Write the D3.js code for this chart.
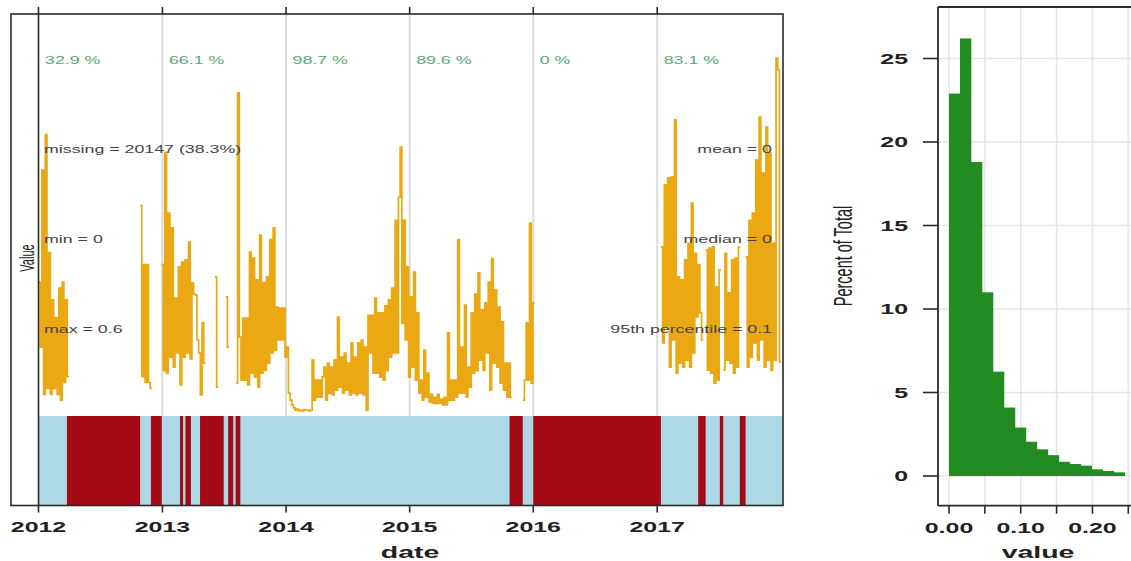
<!DOCTYPE html>
<html>
<head>
<meta charset="utf-8">
<script src="https://cdn.jsdelivr.net/npm/d3@7"></script>
<style>
body{margin:0;background:#fff;}
text{font-family:"Liberation Sans",Arial,sans-serif;}
</style>
</head>
<body>
<svg id="chart" width="1131" height="561"></svg>
<script>
// ---- data -------------------------------------------------------------------
var years = [2012,2013,2014,2015,2016,2017];
var captureLabels = ["32.9 %","66.1 %","98.7 %","89.6 %","0 %","83.1 %"];
var statsLeft = ["missing = 20147 (38.3%)","min = 0","max = 0.6"];
var statsRight = ["mean = 0","median = 0","95th percentile = 0.1"];

// periods shown red in the data capture band
var missingPeriods = [
	["2012-03-25","2012-10-27"],["2012-11-28","2012-12-30"],["2013-02-22","2013-03-03"],
	["2013-03-10","2013-03-26"],["2013-04-22","2013-07-01"],["2013-07-14","2013-07-29"],
	["2013-08-05","2013-08-19"],["2015-10-23","2015-12-01"],["2016-01-01","2017-01-12"],
	["2017-05-02","2017-05-24"],["2017-07-05","2017-07-15"],["2017-09-02","2017-09-19"]
];

// series: runs of values every 5 days
var stepDays = 5;
var runStart = ["2012-01-01","2012-10-27","2012-12-29","2013-06-05","2013-07-07","2013-08-06","2015-12-01","2017-01-12","2017-05-24","2017-07-15","2017-09-19"];
var runA = [0.22,0.11,0.41,0.03,0.47,0.04,0.27,0.03,0.19,0.04,0.16,0.03,0.21,0.02,0.22,0.05,0.19,0.06];
var runB = [0.35,0.06,0.25,0.05,0.25,0.05,0.04];
var runC = [0.25,0.07,0.44,0.066,0.337,0.093,0.312,0.076,0.193,0.10,0.246,0.046,0.254,0.093,0.258,0.10,0.288,0.09,0.219,0.20,0.198,0.122,0.10,0.029,0.151,0.083];
var runD = [0.229,0.042];
var runE = [0.195,0.11];
var runH = [
	0.049,0.541,0.127,0.054,0.159,0.054,0.159,0.046,0.271,0.066,0.261,0.059,0.224,0.042,0.30,0.066,0.219,0.071,
	0.229,0.083,0.292,0.10,0.312,0.105,0.178,0.122,0.176,0.122,0.176,0.093,0.110,0.032,0.020,0.012,
	0.007,0.003,0.005,0.002,0.003,0.002,0.004,0.003,0.003,0.002,0.003,
	0.088,0.02,0.054,0.025,0.054,0.025,0.06,
	0.076,0.02,0.083,0.032,0.076,0.029,0.088,0.037,0.161,0.042,0.093,0.032,0.10,0.037,0.083,0.029,0.117,0.032,
	0.093,0.029,0.117,0.032,0.122,0.029,0.110,0.003,0.164,0.10,0.164,0.066,0.193,0.066,0.168,0.059,0.168,0.054,
	0.18,0.07,0.19,0.093,0.21,0.10,0.325,0.10,0.364,0.449,0.15,
	0.325,0.122,0.246,0.059,0.195,0.076,0.237,0.054,0.168,0.032,0.054,0.020,
	0.105,0.025,0.066,0.017,0.03,0.015,0.025,0.014,0.03,0.015,0.022,0.012,0.025,0.012,0.134,0.02,0.054,0.02,
	0.054,0.025,0.292,0.032,0.11,0.032,0.181,0.025,0.076,0.042,0.168,0.066,0.20,0.07,0.236,0.088,0.173,0.071,
	0.185,0.10,0.22,0.037,0.26,0.083,0.207,0.076,0.178,0.049,0.153,0.037,0.083,0.025,0.083,0.025
];
var runI = [0.02,0.054,0.151,0.054,0.32,0.049,0.185];
var runJ = [0.28,0.117,0.385,0.144,0.397,0.076,0.398,0.122,0.495,0.066,0.229,0.083,0.224,0.076,0.258,0.088,0.286,0.076,0.354,0.10,0.269,0.161,0.25,0.168,0.122];
var runK = [0.275,0.071,0.278,0.066,0.28,0.049,0.212,0.054,0.241];
var runL = [0.071,0.269,0.088,0.202,0.083,0.258,0.066,0.261,0.076,0.28];
var runM = [0.263,0.076,0.325,0.093,0.337,0.117,0.427,0.088,0.50,0.122,0.405,0.076,0.483,0.088,0.439,0.071,0.286,0.088,0.60,0.58,0.085];
var runValues = [runA,runB,runC,runD,runE,runH,runI,runJ,runK,runL,runM];

// histogram (percent of total per bin)
var histEdges = [0,0.0153,0.0306,0.0459,0.0612,0.0765,0.0918,0.1071,0.1224,0.1377,0.153,0.1683,0.1836,0.1989,0.2142,0.2295,0.2448];
var histPercent = [22.9,26.2,18.8,11.0,6.25,4.1,2.9,2.05,1.6,1.25,0.85,0.72,0.62,0.40,0.30,0.22];
var histXTicks = [0,0.05,0.10,0.15,0.20,0.25];
var histXLabels = [0,0.10,0.20];
var histYTicks = [0,5,10,15,20,25];

// ---- drawing ---------------------------------------------------------------------
var SX = 1.78;   // the picture is stretched sideways, text too
var parseDay = d3.timeParse("%Y-%m-%d");
var svg = d3.select("#chart");

function AddText(str, x, y, size, anchor, color, rotate, weight)
{
	return svg.append("text")
		.attr("transform", "translate(" + x + "," + y + ") scale(" + SX + ",1)" + (rotate ? " rotate(-90)" : ""))
		.attr("text-anchor", anchor)
		.style("font-size", size + "px")
		.style("font-weight", weight || "normal")
		.style("fill", color)
		.text(str);
}

//Left panel: time series + data capture band---------------------------------------
var frameL = {x0:11, x1:783, y0:14, y1:505.5};
var bandTop = 416;

var x = d3.scaleTime()
	.domain([parseDay("2012-01-01"), parseDay("2018-01-01")])
	.range([38.5, 780.8]);
var y = d3.scaleLinear().domain([0,0.6]).range([412,58]);

svg.append("defs").append("clipPath").attr("id","clipL")
	.append("rect").attr("x",x(parseDay("2012-01-01"))).attr("y",frameL.y0)
	.attr("width",frameL.x1 - x(parseDay("2012-01-01"))).attr("height",bandTop - frameL.y0);

// year grid lines
svg.selectAll(".ygrid").data(years.slice(1)).enter().append("line")
	.attr("x1",function(d){ return x(new Date(d,0,1)); })
	.attr("x2",function(d){ return x(new Date(d,0,1)); })
	.attr("y1",frameL.y0).attr("y2",bandTop)
	.style("stroke","#dcdcdc").style("stroke-width",2);

// band
svg.append("rect")
	.attr("x",x(parseDay("2012-01-01"))).attr("y",bandTop)
	.attr("width",frameL.x1 - x(parseDay("2012-01-01"))).attr("height",frameL.y1 - bandTop)
	.style("fill","#add8e6");
svg.selectAll(".miss").data(missingPeriods).enter().append("rect")
	.attr("x",function(d){ return x(parseDay(d[0])); })
	.attr("width",function(d){ return x(parseDay(d[1])) - x(parseDay(d[0])); })
	.attr("y",bandTop).attr("height",frameL.y1 - bandTop)
	.style("fill","#a30a13");

// series
var line = d3.line()
	.x(function(d){ return x(d[0]); })
	.y(function(d){ return y(d[1]); })
	.curve(d3.curveStepAfter);

var runs = runValues.map(function(vals, r){
	var start = parseDay(runStart[r]);
	var pts = vals.map(function(v, i){ return [d3.timeDay.offset(start, i*stepDays), v]; });
	pts.push([d3.timeDay.offset(start, vals.length*stepDays), vals[vals.length-1]]);
	return pts;
});

svg.append("g").attr("clip-path","url(#clipL)")
	.selectAll("path").data(runs).enter().append("path")
	.attr("d",line)
	.style("fill","none")
	.style("stroke","#eaa812")
	.style("stroke-width",1.7);

// frame, 2012 line and ticks
svg.append("rect")
	.attr("x",frameL.x0).attr("y",frameL.y0)
	.attr("width",frameL.x1 - frameL.x0).attr("height",frameL.y1 - frameL.y0)
	.style("fill","none").style("stroke","#2a2a2a").style("stroke-width",1.6);
svg.append("line")
	.attr("x1",x(parseDay("2012-01-01"))).attr("x2",x(parseDay("2012-01-01")))
	.attr("y1",frameL.y0).attr("y2",frameL.y1)
	.style("stroke","#2a2a2a").style("stroke-width",1.6);

years.forEach(function(yr, i){
	var px = x(new Date(yr,0,1));
	svg.append("line").attr("x1",px).attr("x2",px).attr("y1",frameL.y0 - 7).attr("y2",frameL.y0)
		.style("stroke","#2a2a2a").style("stroke-width",1.6);
	svg.append("line").attr("x1",px).attr("x2",px).attr("y1",frameL.y1).attr("y2",frameL.y1 + 7)
		.style("stroke","#2a2a2a").style("stroke-width",1.6);
	AddText(String(yr), px, 531.5, 14, "middle", "#222", false, "bold");
	AddText(captureLabels[i], px + 6.5, 64, 10, "start", "#5aa777");
});

statsLeft.forEach(function(s, i){
	AddText(s, 44, 152.5 + i*90, 10, "start", "#444");
});
statsRight.forEach(function(s, i){
	AddText(s, 772, 152.5 + i*90, 10, "end", "#444");
});

AddText("Value", 34, 258, 11, "middle", "#222", true);
AddText("date", 410, 557.5, 16, "middle", "#222", false, "bold");

//Right panel: histogram-------------------------------------------------------------
var frameR = {x0:938, y0:7, y1:505.7};
var x2 = d3.scaleLinear().domain([0,0.25]).range([949,1128.3]);
var y2 = d3.scaleLinear().domain([0,25]).range([476,58.5]);

svg.selectAll(".hgx").data(histXTicks).enter().append("line")
	.attr("x1",function(d){ return x2(d); }).attr("x2",function(d){ return x2(d); })
	.attr("y1",frameR.y0).attr("y2",frameR.y1)
	.style("stroke","#e6e6e6").style("stroke-width",1.6);
svg.selectAll(".hgy").data(histYTicks).enter().append("line")
	.attr("x1",frameR.x0).attr("x2",1131)
	.attr("y1",function(d){ return y2(d); }).attr("y2",function(d){ return y2(d); })
	.style("stroke","#e6e6e6").style("stroke-width",1.6);

svg.selectAll(".bar").data(histPercent).enter().append("rect")
	.attr("x",function(d,i){ return x2(histEdges[i]); })
	.attr("width",function(d,i){ return x2(histEdges[i+1]) - x2(histEdges[i]) + 0.4; })
	.attr("y",function(d){ return y2(d); })
	.attr("height",function(d){ return y2(0) - y2(d); })
	.style("fill","#228b22");

svg.append("line").attr("x1",frameR.x0).attr("x2",frameR.x0).attr("y1",frameR.y0).attr("y2",frameR.y1)
	.style("stroke","#2a2a2a").style("stroke-width",1.8);
svg.append("line").attr("x1",frameR.x0).attr("x2",1140).attr("y1",frameR.y0).attr("y2",frameR.y0)
	.style("stroke","#2a2a2a").style("stroke-width",1.8);
svg.append("line").attr("x1",frameR.x0).attr("x2",1140).attr("y1",frameR.y1).attr("y2",frameR.y1)
	.style("stroke","#2a2a2a").style("stroke-width",1.8);

histYTicks.forEach(function(t){
	svg.append("line").attr("x1",frameR.x0 - 15).attr("x2",frameR.x0)
		.attr("y1",y2(t)).attr("y2",y2(t))
		.style("stroke","#2a2a2a").style("stroke-width",1.6);
	AddText(String(t), 908, y2(t) + 5, 14, "end", "#222", false, "bold");
});
histXTicks.forEach(function(t){
	svg.append("line").attr("x1",x2(t)).attr("x2",x2(t))
		.attr("y1",frameR.y1).attr("y2",frameR.y1 + 8)
		.style("stroke","#2a2a2a").style("stroke-width",1.6);
});
histXLabels.forEach(function(t){
	AddText(d3.format(".2f")(t), x2(t), 532.5, 14, "middle", "#222", false, "bold");
});

AddText("Percent of Total", 852, 256, 14.5, "middle", "#222", true);
AddText("value", 1038, 557.5, 16, "middle", "#222", false, "bold");
</script>
</body>
</html>
